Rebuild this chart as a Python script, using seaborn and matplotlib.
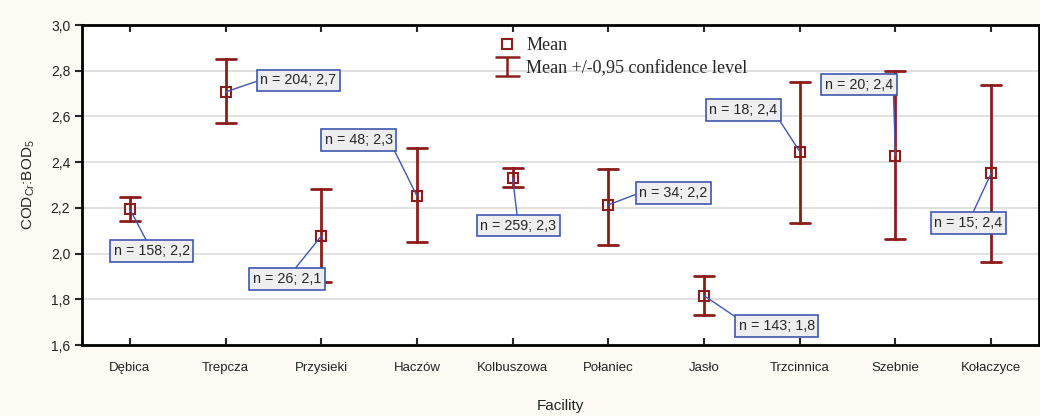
import matplotlib
matplotlib.use('Agg')
import matplotlib.pyplot as plt
from matplotlib.lines import Line2D
from matplotlib.ticker import FuncFormatter
import seaborn as sns
import pandas as pd
import numpy as np

facilities = ['Dębica', 'Trepcza', 'Przysieki', 'Haczów', 'Kolbuszowa',
              'Połaniec', 'Jasło', 'Trzcinnica', 'Szebnie', 'Kołaczyce']
means = [2.195, 2.707, 2.077, 2.252, 2.331, 2.213, 1.816, 2.446, 2.428, 2.351]
ci_low = [2.143, 2.571, 1.876, 2.051, 2.291, 2.038, 1.731, 2.133, 2.065, 1.965]
ci_high = [2.248, 2.851, 2.283, 2.462, 2.374, 2.370, 1.902, 2.752, 2.799, 2.739]
n_obs = [158, 204, 26, 48, 259, 34, 143, 18, 20, 15]

# where each label box sits (category index, y value) and where its leader line leaves the box
label_pos = [(0.23, 2.011), (1.76, 2.759), (1.64, 1.889), (2.39, 2.497),
             (4.06, 2.121), (5.68, 2.265), (6.76, 1.683), (6.41, 2.628),
             (7.62, 2.738), (8.76, 2.134)]
label_rel = [(0.5, 0.5), (0, 0.5), (0.5, 0.5), (1, 0), (0.5, 0.5),
             (0, 0.5), (0, 1), (1, 0), (1, 0.5), (0.5, 0.5)]

sns.set_theme(style='ticks')
plt.rcParams['font.family'] = ['Liberation Sans', 'DejaVu Sans']
plt.rcParams['mathtext.fontset'] = 'custom'
plt.rcParams['mathtext.rm'] = 'Liberation Sans'

RED = '#8B1D1D'
BLUE = '#3F57B0'

# long form: low / mean / high per facility -> median + full range = mean + CI
rows = []
for f, lo, m, hi in zip(facilities, ci_low, means, ci_high):
    for v in (lo, m, hi):
        rows.append({'Facility': f, 'value': v})
df = pd.DataFrame(rows)

fig = plt.figure(figsize=(10.4, 4.16), dpi=100, facecolor='#FCFAF3')
ax = fig.add_axes([82 / 1040, 71 / 416, 957 / 1040, 320 / 416])
ax.set_facecolor('white')

sns.pointplot(data=df, x='Facility', y='value', order=facilities,
              estimator='median', errorbar=('pi', 100),
              color=RED, marker='s', linestyle='none', capsize=0.21,
              err_kws={'linewidth': 2}, markersize=6.5,
              markerfacecolor='white', markeredgecolor=RED,
              markeredgewidth=1.5, ax=ax)

for i, (n, m) in enumerate(zip(n_obs, means)):
    txt = f'n = {n}; {m:.1f}'.replace('.', ',')
    ax.annotate(txt, xy=(i, m), xytext=label_pos[i], textcoords='data',
                ha='center', va='center', fontsize=10.3, zorder=5,
                bbox=dict(boxstyle='square,pad=0.25', fc='#EEEEEE',
                          ec=BLUE, lw=1.2),
                arrowprops=dict(arrowstyle='-', color=BLUE, lw=1,
                                shrinkA=0, shrinkB=0, relpos=label_rel[i]))

ax.set_xlim(-0.5, 9.5)
ax.set_ylim(1.6, 3.0)
ax.set_yticks(np.arange(1.6, 3.01, 0.2))
ax.yaxis.set_major_formatter(FuncFormatter(lambda v, p: f'{v:.1f}'.replace('.', ',')))
ax.grid(axis='y', color='#DDDDDD', linewidth=1.3)
ax.set_axisbelow(True)

ax.tick_params(axis='x', direction='in', top=True, bottom=True, length=5,
               width=1.5, labelsize=9.5, pad=12, labelcolor='#222222')
ax.tick_params(axis='y', direction='out', length=5, width=1.5, labelsize=10,
               labelcolor='#222222')
for s in ax.spines.values():
    s.set_linewidth(2)
    s.set_color('black')

ax.set_xlabel('Facility', fontsize=11, labelpad=18, color='#222222')
ax.set_ylabel(r'COD$_\mathregular{Cr}$:BOD$_\mathregular{5}$', fontsize=11,
              labelpad=10, color='#222222')

h_mean = Line2D([], [], marker='s', linestyle='none', color=RED,
                markerfacecolor='white', markeredgewidth=1.5, markersize=6.5)
h_ci = ax.errorbar([np.nan], [np.nan], yerr=[np.nan], fmt='none', ecolor=RED,
                   elinewidth=1.8, capsize=9, capthick=1.8)
leg = ax.legend([h_mean, h_ci], ['Mean', 'Mean +/-0,95 confidence level'],
                loc='upper left', bbox_to_anchor=(0.416, 1.012), frameon=False,
                prop={'family': 'Liberation Serif', 'size': 13},
                handlelength=1.2, handletextpad=0.45, labelspacing=0.3)

fig.savefig('out.png', dpi=100, facecolor=fig.get_facecolor())
